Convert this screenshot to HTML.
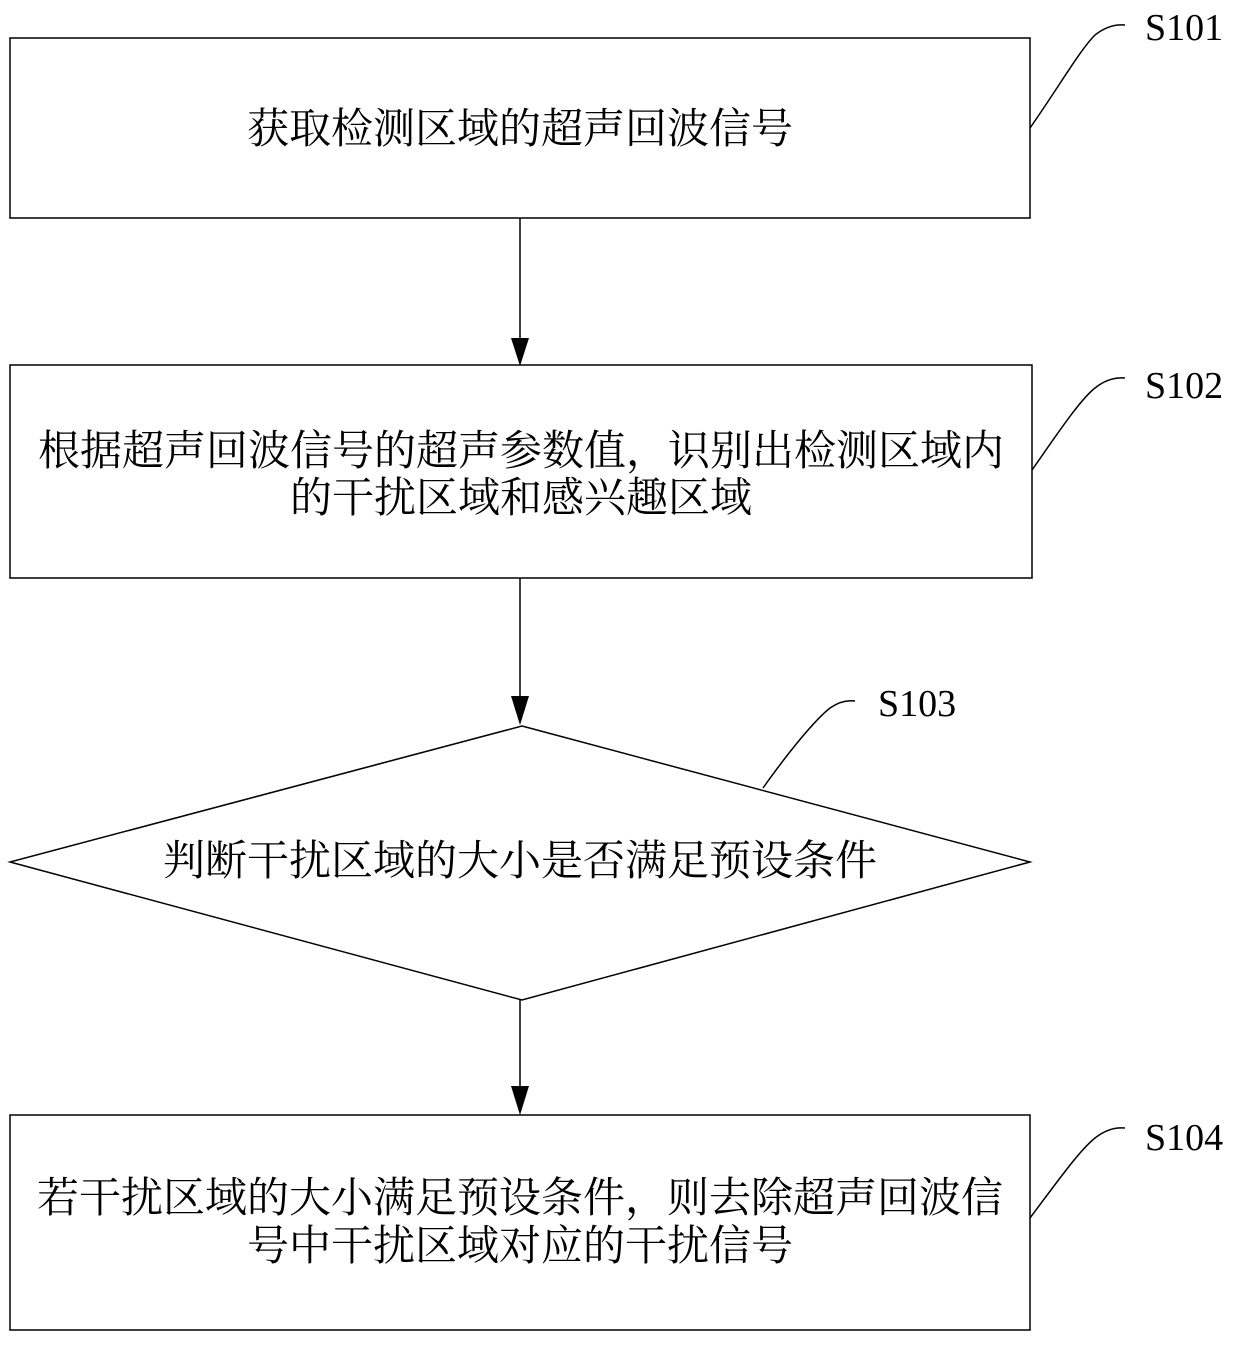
<!DOCTYPE html>
<html><head><meta charset="utf-8"><style>
body{margin:0;background:#fff}
svg text{font-family:"Liberation Serif","Noto Serif CJK SC",serif;fill:#000}
</style></head><body>
<svg width="1240" height="1341" viewBox="0 0 1240 1341" xmlns="http://www.w3.org/2000/svg">
<g fill="none" stroke="#000" stroke-width="1.5">
<rect x="10" y="38" width="1020" height="180"/>
<rect x="10" y="365" width="1022" height="213"/>
<polygon points="522,726 1030,862 522,1000 10,862"/>
<rect x="10" y="1115" width="1020" height="215"/>
<line x1="520" y1="218" x2="520" y2="340"/>
<line x1="520" y1="578" x2="520" y2="700"/>
<line x1="520" y1="1000" x2="520" y2="1090"/>
<path d="M1030,128 C1060,85 1080,50 1095,35 C1105,27 1115,24 1125,25"/>
<path d="M1032,470 C1060,430 1080,400 1095,388 C1105,380 1115,377 1125,378"/>
<path d="M763,788 C790,750 815,720 830,708 C840,701 848,700 855,701"/>
<path d="M1030,1218 C1060,1178 1080,1150 1095,1138 C1105,1130 1115,1127 1125,1128"/>
</g>
<g fill="#000">
<polygon points="511,338 529,338 520,366"/>
<polygon points="511,696 529,696 520,725"/>
<polygon points="511,1086 529,1086 520,1115"/>
</g>
<g font-size="38">
<text x="1145" y="40">S101</text>
<text x="1145" y="398">S102</text>
<text x="878" y="716">S103</text>
<text x="1145" y="1150">S104</text>
</g>
<g font-size="42" text-anchor="middle">
<text x="520" y="143">获取检测区域的超声回波信号</text>
<text x="521" y="465">根据超声回波信号的超声参数值，识别出检测区域内</text>
<text x="521" y="512">的干扰区域和感兴趣区域</text>
<text x="520" y="875">判断干扰区域的大小是否满足预设条件</text>
<text x="520" y="1212">若干扰区域的大小满足预设条件，则去除超声回波信</text>
<text x="520" y="1260">号中干扰区域对应的干扰信号</text>
</g>
</svg>
</body></html>
